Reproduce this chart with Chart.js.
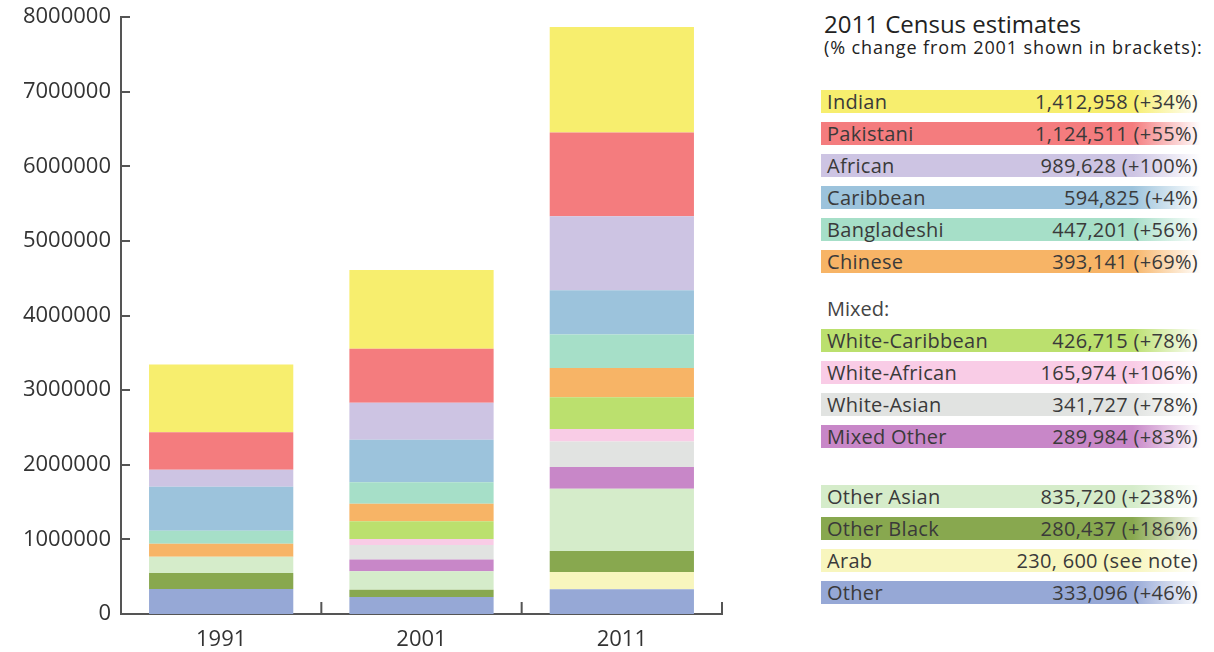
<!DOCTYPE html>
<html>
<head>
<meta charset="utf-8">
<script src="https://cdn.jsdelivr.net/npm/chart.js@4"></script>
<style>
  body { margin: 0; background: #fff; font-family: "Open Sans", sans-serif; }
  #wrap { position: relative; width: 1214px; height: 652px; }
  #chartBox { position: absolute; left: 0; top: 0; width: 740px; height: 652px; }
  .legend { position: absolute; left: 821px; top: 0; width: 380px; color: #333; }
  .title { position: absolute; left: 3px; top: 9px; font-size: 24px; line-height: 30px; color: #222; white-space: nowrap; }
  .sub { position: absolute; left: 3px; top: 35px; font-size: 18px; line-height: 24px; letter-spacing: 0.9px; color: #222; white-space: nowrap; }
  .row { position: absolute; left: 0; width: 380px; height: 23px; line-height: 23px; font-size: 20px; letter-spacing: 0.3px;
         display: flex; justify-content: space-between; box-sizing: border-box; padding: 0 3px 0 6px; color: #3a3a3a; }
  .head { position: absolute; left: 6px; font-size: 20px; line-height: 23px; color: #444; }
</style>
</head>
<body>
<div id="wrap">
  <div id="chartBox"><canvas id="censusChart" width="740" height="652"></canvas></div>
  <div class="legend" id="legend">
    <div class="title">2011 Census estimates</div>
    <div class="sub">(% change from 2001 shown in brackets):</div>
  </div>
</div>
<script>
const years = ['1991', '2001', '2011'];

// stacked bottom to top
const groups = ['Other', 'Arab', 'Other Black', 'Other Asian', 'Mixed Other', 'White-Asian', 'White-African',
                'White-Caribbean', 'Chinese', 'Bangladeshi', 'Caribbean', 'African', 'Pakistani', 'Indian'];

const other          = [336000, 228000, 333096];
const arab           = [null, null, 230600];
const otherBlack     = [215000, 98000, 280437];
const otherAsian     = [215000, 247000, 835720];
const mixedOther     = [null, 158000, 289984];
const whiteAsian     = [null, 192000, 341727];
const whiteAfrican   = [null, 81000, 165974];
const whiteCaribbean = [null, 240000, 426715];
const chinese        = [175000, 233000, 393141];
const bangladeshi    = [175000, 287000, 447201];
const caribbean      = [590000, 572000, 594825];
const african        = [228000, 495000, 989628];
const pakistani      = [500000, 725000, 1124511];
const indian         = [910000, 1054000, 1412958];

const seriesValues = [other, arab, otherBlack, otherAsian, mixedOther, whiteAsian, whiteAfrican,
                      whiteCaribbean, chinese, bangladeshi, caribbean, african, pakistani, indian];

const colors = ['#96a8d6', '#f8f6be', '#88a84f', '#d5ecca', '#c887c8', '#e1e3e1', '#f9cce6',
                '#bbe06e', '#f7b466', '#a6dfc8', '#9cc3dc', '#cdc4e3', '#f47c7e', '#f7ee6e'];

const yTicks = [0, 1000000, 2000000, 3000000, 4000000, 5000000, 6000000, 7000000, 8000000];

// legend (2011 figures as printed)
const legendMain  = ['Indian', 'Pakistani', 'African', 'Caribbean', 'Bangladeshi', 'Chinese'];
const legendMixed = ['White-Caribbean', 'White-African', 'White-Asian', 'Mixed Other'];
const legendOther = ['Other Asian', 'Other Black', 'Arab', 'Other'];
const legendNotes = {
  'Indian': '1,412,958 (+34%)', 'Pakistani': '1,124,511 (+55%)', 'African': '989,628 (+100%)',
  'Caribbean': '594,825 (+4%)', 'Bangladeshi': '447,201 (+56%)', 'Chinese': '393,141 (+69%)',
  'White-Caribbean': '426,715 (+78%)', 'White-African': '165,974 (+106%)', 'White-Asian': '341,727 (+78%)',
  'Mixed Other': '289,984 (+83%)', 'Other Asian': '835,720 (+238%)', 'Other Black': '280,437 (+186%)',
  'Arab': '230, 600 (see note)', 'Other': '333,096 (+46%)'
};

// legend rows
const legend = document.getElementById('legend');
function addRow(name, top) {
  const c = colors[groups.indexOf(name)];
  const d = document.createElement('div');
  d.className = 'row';
  d.style.top = top + 'px';
  d.style.background = 'linear-gradient(to right, ' + c + ' 0%, ' + c + ' 82%, rgba(255,255,255,0.9) 100%)';
  d.innerHTML = '<span>' + name + '</span><span>' + legendNotes[name] + '</span>';
  legend.appendChild(d);
}
legendMain.forEach((n, i) => addRow(n, 90 + i * 32));
const mh = document.createElement('div');
mh.className = 'head'; mh.style.top = '297px'; mh.textContent = 'Mixed:';
legend.appendChild(mh);
legendMixed.forEach((n, i) => addRow(n, 329 + i * 32));
legendOther.forEach((n, i) => addRow(n, 485 + i * 32));

// ticks drawn inside the axes, like the original
const insideTicks = {
  id: 'insideTicks',
  afterDraw(c) {
    const { ctx, chartArea: a, scales: { x, y } } = c;
    ctx.save();
    ctx.strokeStyle = '#555';
    ctx.lineWidth = 2;
    ctx.beginPath();
    y.ticks.forEach((t, i) => {
      const py = Math.round(y.getPixelForTick(i));
      ctx.moveTo(a.left, py);
      ctx.lineTo(a.left + 9, py);
    });
    const n = x.ticks.length;
    for (let i = 1; i <= n; i++) {
      const px = i < n ? (x.getPixelForTick(i - 1) + x.getPixelForTick(i)) / 2 : a.right;
      ctx.moveTo(px, a.bottom);
      ctx.lineTo(px, a.bottom - 12);
    }
    ctx.stroke();
    ctx.restore();
  }
};

new Chart(document.getElementById('censusChart'), {
  type: 'bar',
  data: {
    labels: years,
    datasets: groups.map((g, i) => ({
      label: g,
      data: seriesValues[i],
      backgroundColor: colors[i],
      borderWidth: 0,
      barPercentage: 0.72,
      categoryPercentage: 1
    }))
  },
  options: {
    responsive: false,
    animation: false,
    layout: { padding: { top: 17, right: 18, left: 0, bottom: 0 } },
    plugins: { legend: { display: false }, tooltip: { enabled: false } },
    scales: {
      x: {
        stacked: true,
        grid: { display: false, drawTicks: false },
        border: { display: true, color: '#555', width: 2 },
        ticks: { color: '#333', font: { family: 'Open Sans', size: 22 }, padding: 13 },
        afterFit: s => { s.height = 38; }
      },
      y: {
        stacked: true,
        min: 0,
        max: 8000000,
        afterBuildTicks: s => { s.ticks = yTicks.map(v => ({ value: v })); },
        grid: { display: false, drawTicks: false },
        border: { display: true, color: '#555', width: 2 },
        ticks: { color: '#333', font: { family: 'Open Sans', size: 22 }, padding: 10, callback: v => String(v) },
        afterFit: s => { s.width = 121; s.paddingTop = 0; s.paddingBottom = 0; }
      }
    }
  },
  plugins: [insideTicks]
});
</script>
</body>
</html>
